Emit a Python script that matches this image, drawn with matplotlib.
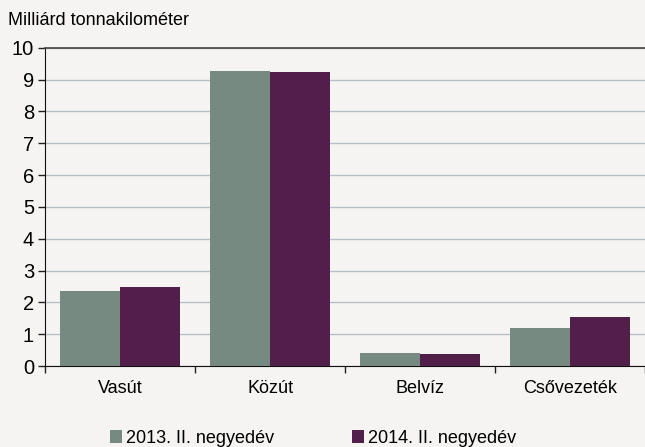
import matplotlib
matplotlib.use("Agg")
import matplotlib.pyplot as plt
import numpy as np

# data
categories = ["Vasút", "Közút", "Belvíz", "Csővezeték"]
series_names = ["2013. II. negyedév", "2014. II. negyedév"]
vals_2013 = [2.37, 9.28, 0.42, 1.21]
vals_2014 = [2.47, 9.25, 0.39, 1.53]
yticks = list(range(0, 11))

bg = "#f5f4f2"
c_2013 = "#778a82"
c_2014 = "#521e4a"

plt.rcParams['font.family'] = ['Liberation Sans', 'DejaVu Sans']

fig = plt.figure(figsize=(6.45, 4.47), dpi=100, facecolor=bg)
ax = fig.add_axes([0.07, 0.181, 0.93, 0.712])
ax.set_facecolor(bg)

x = np.arange(len(categories))
w = 0.4
ax.bar(x - w / 2, vals_2013, width=w, color=c_2013, label=series_names[0], zorder=3)
ax.bar(x + w / 2, vals_2014, width=w, color=c_2014, label=series_names[1], zorder=3)

ax.set_xlim(-0.5, len(categories) - 0.5)
ax.set_ylim(0, 10)
ax.set_yticks(yticks)
ax.set_yticklabels([str(t) for t in yticks], fontsize=14.5)
ax.yaxis.grid(True, color="#b8bfc6", linewidth=1, zorder=0)
ax.set_axisbelow(True)

# category labels between boundary ticks
ax.set_xticks(np.arange(-0.5, len(categories)), minor=False)
ax.set_xticklabels([])
ax.set_xticks(x, minor=True)
ax.set_xticklabels(categories, minor=True, fontsize=13)
ax.tick_params(axis='x', which='minor', length=0, pad=10)
ax.tick_params(axis='x', which='major', length=5, width=1, direction='out', color='#222222')
ax.tick_params(axis='y', length=5, width=1, direction='out', color='#222222', pad=3)

ax.spines["right"].set_visible(False)
ax.spines["top"].set_color("#444444")
ax.spines["top"].set_linewidth(1.2)
ax.spines["left"].set_color("#111111")
ax.spines["bottom"].set_color("#111111")

fig.text(0.012, 0.955, "Milliárd tonnakilométer", fontsize=13, ha="left", va="center")

leg = fig.legend(loc="center", bbox_to_anchor=(0.485, 0.02), ncol=2, frameon=False,
                 fontsize=13, handlelength=0.7, handleheight=0.7, handletextpad=0.2,
                 columnspacing=4.3)

fig.savefig("out.png", dpi=100, facecolor=bg)
